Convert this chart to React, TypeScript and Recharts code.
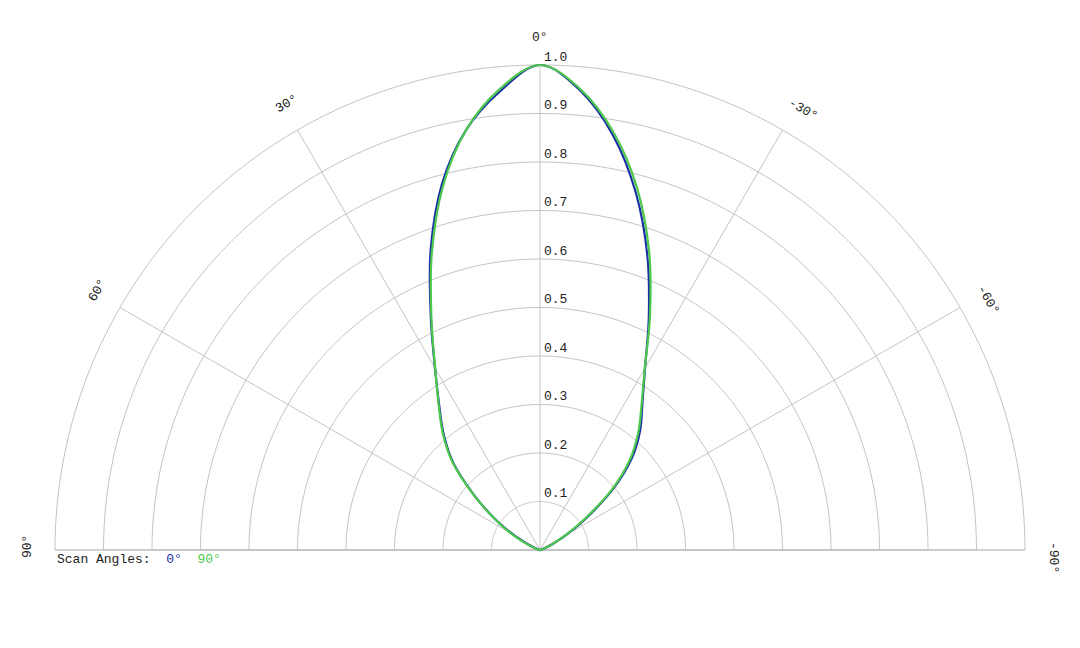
import React from 'react';
import { RadarChart, Radar, PolarGrid, PolarAngleAxis, PolarRadiusAxis, Legend } from 'recharts';

// Scan angle samples (degrees, 0 = boresight, positive = left)
const scanAngles = [
  -90, -85, -80, -75, -70, -65, -60, -55, -50, -45, -40, -35, -30, -25, -20, -15, -10, -5,
  0, 5, 10, 15, 20, 25, 30, 35, 40, 45, 50, 55, 60, 65, 70, 75, 80, 85, 90,
];

// Normalised intensity, scan angle 0°
const scan0 = [
  0, 0, 0, 0.003, 0.01, 0.028, 0.065, 0.122, 0.199, 0.268, 0.321, 0.368, 0.433, 0.531, 0.647, 0.763, 0.868, 0.951,
  1.0, 0.949, 0.879, 0.781, 0.659, 0.533, 0.433, 0.362, 0.308, 0.252, 0.18, 0.117, 0.065, 0.028, 0.01, 0.003, 0, 0, 0,
];

// Normalised intensity, scan angle 90°
const scan90 = [
  0, 0, 0, 0.002, 0.008, 0.025, 0.06, 0.115, 0.193, 0.261, 0.315, 0.365, 0.432, 0.537, 0.657, 0.773, 0.874, 0.954,
  1.0, 0.954, 0.879, 0.775, 0.652, 0.53, 0.432, 0.364, 0.311, 0.254, 0.181, 0.119, 0.07, 0.032, 0.012, 0.003, 0, 0, 0,
];

const seriesNames = ['0°', '90°'];
const seriesColors = ['#1b2fa6', '#4cc84c'];
const angleTicks = [-90, -60, -30, 0, 30, 60, 90];
const radiusTicks = [0.1, 0.2, 0.3, 0.4, 0.5, 0.6, 0.7, 0.8, 0.9, 1.0];

const data = scanAngles.map((a, i) => ({ angle: a, s0: scan0[i], s90: scan90[i] }));

// resolution of the concentric grid arcs (polar degrees)
const arcAngles = Array.from({ length: 181 }, (_, i) => i);

const FONT = '"Liberation Mono", "Courier New", monospace';

function smoothPath(pts: any[]): string {
  if (!pts || !pts.length) return '';
  let d = `M${pts[0].x},${pts[0].y}`;
  for (let i = 0; i < pts.length - 1; i++) {
    const p0 = pts[i - 1] || pts[i];
    const p1 = pts[i];
    const p2 = pts[i + 1];
    const p3 = pts[i + 2] || p2;
    const c1x = p1.x + (p2.x - p0.x) / 6;
    const c1y = p1.y + (p2.y - p0.y) / 6;
    const c2x = p2.x - (p3.x - p1.x) / 6;
    const c2y = p2.y - (p3.y - p1.y) / 6;
    d += ` C${c1x},${c1y} ${c2x},${c2y} ${p2.x},${p2.y}`;
  }
  return d;
}

const SmoothShape = (props: any) => (
  <path
    d={smoothPath(props.points)}
    fill="none"
    stroke={props.stroke}
    strokeWidth={2.2}
    strokeLinejoin="round"
    strokeLinecap="round"
  />
);

const AngleTick = (props: any) => {
  const { x, y, payload } = props;
  const v = payload.value;
  return (
    <text
      x={x}
      y={y}
      dx={-8}
      transform={`rotate(${-v} ${x} ${y})`}
      textAnchor="start"
      dominantBaseline="central"
      fontFamily={FONT}
      fontSize={13}
      fill="#222"
    >
      {`${v}°`}
    </text>
  );
};

const RadiusTick = (props: any) => {
  const { x, y, payload } = props;
  return (
    <text
      x={x + 4}
      y={y - 8}
      textAnchor="start"
      dominantBaseline="central"
      fontFamily={FONT}
      fontSize={13}
      fill="#222"
    >
      {Number(payload.value).toFixed(1)}
    </text>
  );
};

const LegendContent = (props: any) => {
  const payload = props.payload || [];
  return (
    <div style={{ fontFamily: FONT, fontSize: 13, color: '#222', whiteSpace: 'pre', lineHeight: '16px' }}>
      {'Scan Angles:'}
      {payload.map((e: any, i: number) => (
        <span key={i} style={{ color: e.color }}>{`  ${e.value}`}</span>
      ))}
    </div>
  );
};

export default function App() {
  return (
    <div style={{ position: 'absolute', left: 0, top: 0, width: 1080, height: 648, background: '#fff' }}>
      <RadarChart
        width={1080}
        height={648}
        data={data}
        cx={540}
        cy={550}
        innerRadius={0}
        outerRadius={485}
        startAngle={0}
        endAngle={180}
        margin={{ top: 0, right: 0, bottom: 0, left: 0 }}
      >
        <PolarGrid gridType="polygon" polarAngles={arcAngles} radialLines={false} stroke="#c4c4c4" strokeWidth={1} />
        <PolarGrid gridType="polygon" polarRadius={[]} radialLines={true} stroke="#c4c4c4" strokeWidth={1} />
        <PolarAngleAxis
          dataKey="angle"
          type="number"
          domain={[-90, 90]}
          ticks={angleTicks}
          axisLine={false}
          tickLine={false}
          tickSize={28}
          tick={<AngleTick />}
        />
        <PolarRadiusAxis
          angle={90}
          type="number"
          domain={[0, 1]}
          ticks={radiusTicks}
          axisLine={false}
          tickLine={false}
          tick={<RadiusTick />}
        />
        <Radar
          name={seriesNames[0]}
          dataKey="s0"
          stroke={seriesColors[0]}
          fill="none"
          fillOpacity={0}
          dot={false}
          isAnimationActive={false}
          shape={<SmoothShape />}
        />
        <Radar
          name={seriesNames[1]}
          dataKey="s90"
          stroke={seriesColors[1]}
          fill="none"
          fillOpacity={0}
          dot={false}
          isAnimationActive={false}
          shape={<SmoothShape />}
        />
        <Legend
          verticalAlign="bottom"
          content={<LegendContent />}
          wrapperStyle={{ left: 57, top: 552, bottom: 'auto', width: 300, height: 16 }}
        />
      </RadarChart>
    </div>
  );
}
